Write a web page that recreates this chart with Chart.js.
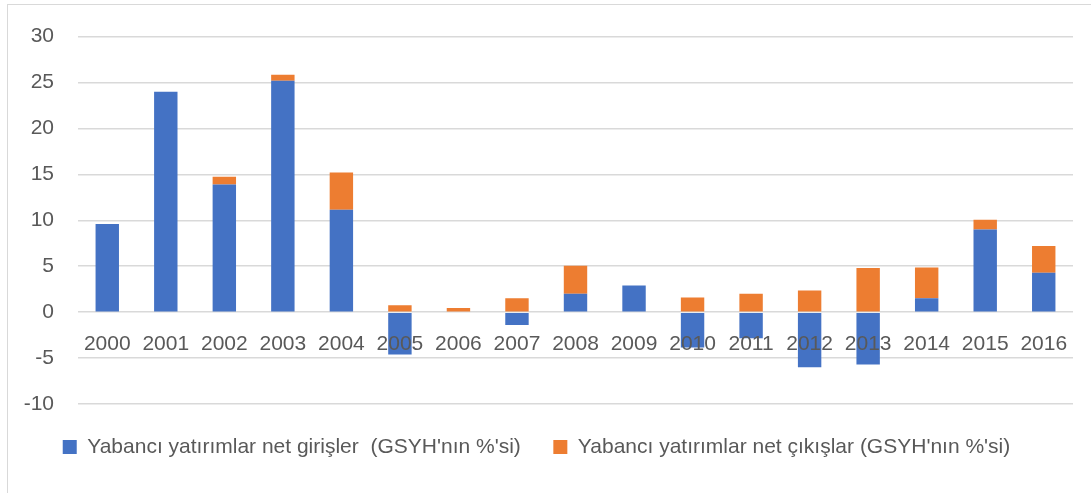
<!DOCTYPE html>
<html>
<head>
<meta charset="utf-8">
<script src="https://cdn.jsdelivr.net/npm/chart.js@4.4.1/dist/chart.umd.min.js"></script>
<style>
    html, body { margin: 0; padding: 0; background: #fff; overflow: hidden; }
    #wrap { position: relative; width: 1091px; height: 493px; }
    #frame { position: absolute; left: 7px; top: 4px; width: 1100px; height: 520px; border: 1px solid #d9d9d9; box-sizing: border-box; }
    #chart { position: absolute; left: 0; top: 0; }
</style>
</head>
<body>
<div id="wrap">
    <div id="frame"></div>
    <canvas id="chart" width="1091" height="493"></canvas>
</div>
<script>
// Chart data
const years = ['2000', '2001', '2002', '2003', '2004', '2005', '2006', '2007', '2008',
               '2009', '2010', '2011', '2012', '2013', '2014', '2015', '2016'];
const netInflows = [9.6, 24.0, 13.9, 25.2, 11.15, -4.6, -0.1, -1.4, 2.0,
                    2.9, -3.85, -2.85, -6.0, -5.7, 1.5, 9.0, 4.3];
const netOutflows = [0, 0, 0.85, 0.65, 4.05, 0.75, 0.45, 1.5, 3.05,
                     0, 1.6, 2.0, 2.35, 4.8, 3.35, 1.05, 2.9];
const yTicks = [-10, -5, 0, 5, 10, 15, 20, 25, 30];

const inflowLabel = "Yabancı yatırımlar net girişler  (GSYH'nın %'si)";
const outflowLabel = "Yabancı yatırımlar net çıkışlar (GSYH'nın %'si)";

const textColor = '#595959';
const gridColor = '#d9d9d9';
const fontFamily = '"Liberation Sans", Arial, sans-serif';

const ctx = document.getElementById('chart').getContext('2d');

const chart = new Chart(ctx, {
    type: 'bar',
    data: {
        labels: years,
        datasets: [{
            label: inflowLabel,
            data: netInflows,
            backgroundColor: '#4472C4',
            barPercentage: 0.4,
            categoryPercentage: 1.0
        }, {
            label: outflowLabel,
            data: netOutflows,
            backgroundColor: '#ED7D31',
            barPercentage: 0.4,
            categoryPercentage: 1.0
        }]
    },
    options: {
        responsive: false,
        animation: false,
        layout: {
            padding: { left: 0, right: 18, top: 33, bottom: 25.5 }
        },
        plugins: {
            tooltip: { enabled: false },
            legend: {
                position: 'bottom',
                labels: {
                    boxWidth: 14,
                    boxHeight: 14,
                    padding: 32.5,
                    color: textColor,
                    font: { family: fontFamily, size: 21 }
                }
            }
        },
        scales: {
            x: {
                stacked: true,
                position: { y: 0 },
                // labels sit under the zero line, so the axis takes no layout room
                afterFit: function(scale) {
                    scale.height = 0;
                },
                grid: { display: false, drawTicks: false },
                border: { display: false },
                ticks: {
                    z: 1, // year labels are drawn over the negative bars
                    color: textColor,
                    padding: 19,
                    maxRotation: 0,
                    autoSkip: false,
                    font: { family: fontFamily, size: 21 }
                }
            },
            y: {
                stacked: true,
                min: -10,
                max: 30,
                afterFit: function(scale) {
                    scale.width = 78;
                },
                afterBuildTicks: function(scale) {
                    scale.ticks = yTicks.map(v => ({ value: v }));
                },
                grid: {
                    color: gridColor,
                    lineWidth: 1.5,
                    drawTicks: false
                },
                border: { display: false },
                ticks: {
                    color: textColor,
                    padding: 24,
                    font: { family: fontFamily, size: 21 }
                }
            }
        }
    }
});
</script>
</body>
</html>
